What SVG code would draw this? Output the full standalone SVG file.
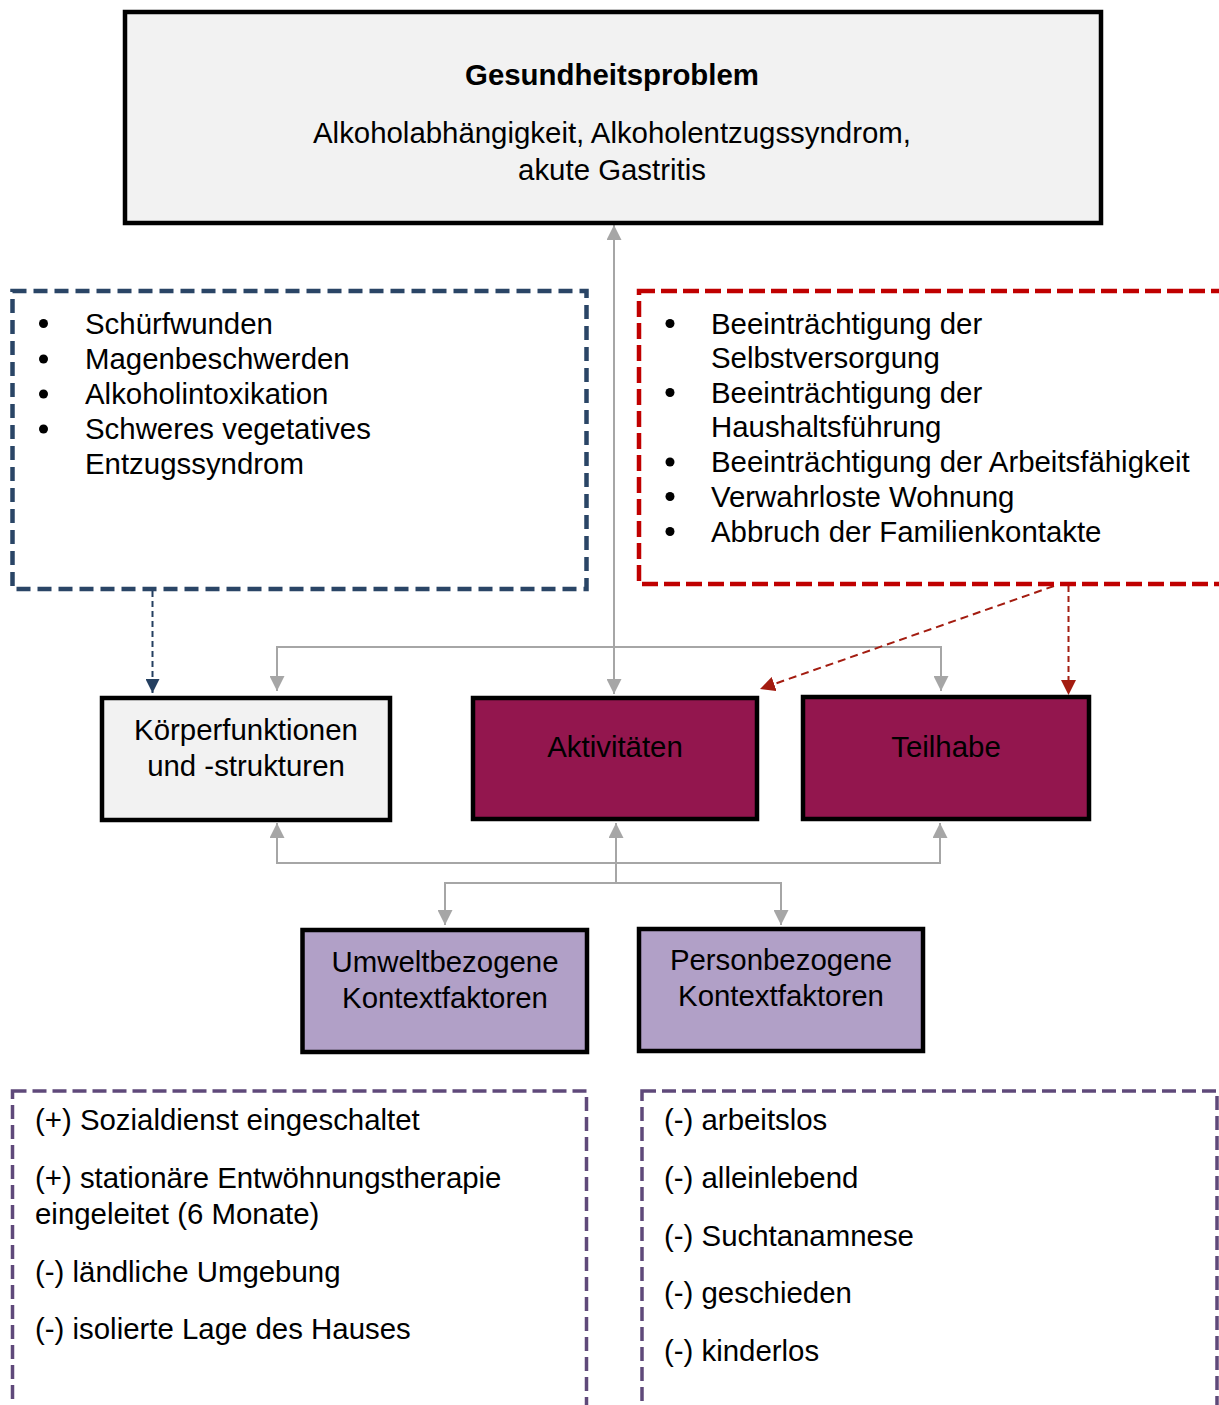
<svg xmlns="http://www.w3.org/2000/svg" width="1219" height="1405" viewBox="0 0 1219 1405">
<style>
text{font-family:"Liberation Sans",Arial,sans-serif;font-size:29.4px;fill:#000}
.c{text-anchor:middle}
.b{font-weight:bold}
.node{stroke:#000;stroke-width:4.5}
.gray{fill:none;stroke:#a6a6a6;stroke-width:2}
</style>
<defs>
<marker id="ag" viewBox="0 0 10 10" refX="10" refY="5" markerWidth="15" markerHeight="15" markerUnits="userSpaceOnUse" orient="auto-start-reverse"><path d="M0,0 L10,5 L0,10 z" fill="#a6a6a6"/></marker>
<marker id="ab" viewBox="0 0 10 10" refX="10" refY="5" markerWidth="14" markerHeight="14" markerUnits="userSpaceOnUse" orient="auto-start-reverse"><path d="M0,0 L10,5 L0,10 z" fill="#243f60"/></marker>
<marker id="ar" viewBox="0 0 10 10" refX="10" refY="5" markerWidth="15" markerHeight="15" markerUnits="userSpaceOnUse" orient="auto-start-reverse"><path d="M0,0 L10,5 L0,10 z" fill="#a31c10"/></marker>
</defs>

<g id="connectors">
<path class="gray" d="M614,225 V694" marker-start="url(#ag)" marker-end="url(#ag)"/>
<path class="gray" d="M277,691 V647 H941 V691" marker-start="url(#ag)" marker-end="url(#ag)"/>
<path class="gray" d="M277,823 V863 H940 V823" marker-start="url(#ag)" marker-end="url(#ag)"/>
<path class="gray" d="M616,823 V883" marker-start="url(#ag)"/>
<path class="gray" d="M445,925 V883 H781 V925" marker-start="url(#ag)" marker-end="url(#ag)"/>
<path d="M152.5,591 V693" fill="none" stroke="#243f60" stroke-width="2" stroke-dasharray="6 4" marker-end="url(#ab)"/>
<path d="M1054,586 L760,689" fill="none" stroke="#a31c10" stroke-width="2" stroke-dasharray="8 5" marker-end="url(#ar)"/>
<path d="M1068.5,586 V695" fill="none" stroke="#a31c10" stroke-width="2" stroke-dasharray="6 4" marker-end="url(#ar)"/>
</g>

<g id="gesundheitsproblem">
<rect class="node" x="125" y="12" width="976" height="211" fill="#f2f2f2"/>
<text class="c b" x="612" y="84.5">Gesundheitsproblem</text>
<text class="c" x="612" y="142.5">Alkoholabhängigkeit, Alkoholentzugssyndrom,</text>
<text class="c" x="612" y="179.5">akute Gastritis</text>
</g>

<g id="koerper-liste">
<rect x="12.5" y="291" width="574" height="298" fill="none" stroke="#2a4566" stroke-width="4.5" stroke-dasharray="14 7"/>
<g>
<circle cx="43.5" cy="323.5" r="4.5" fill="#000"/>
<circle cx="43.5" cy="359" r="4.5" fill="#000"/>
<circle cx="43.5" cy="394" r="4.5" fill="#000"/>
<circle cx="43.5" cy="429" r="4.5" fill="#000"/>
</g>
<text x="85" y="333.5">Schürfwunden</text>
<text x="85" y="369">Magenbeschwerden</text>
<text x="85" y="404">Alkoholintoxikation</text>
<text x="85" y="439">Schweres vegetatives</text>
<text x="85" y="474">Entzugssyndrom</text>
</g>

<g id="aktivitaet-liste">
<rect x="639" y="291" width="600" height="293" fill="none" stroke="#c00000" stroke-width="4.5" stroke-dasharray="16 6"/>
<g>
<circle cx="670" cy="323.5" r="4.5" fill="#000"/>
<circle cx="670" cy="392.5" r="4.5" fill="#000"/>
<circle cx="670" cy="462" r="4.5" fill="#000"/>
<circle cx="670" cy="496.5" r="4.5" fill="#000"/>
<circle cx="670" cy="531.5" r="4.5" fill="#000"/>
</g>
<text x="711" y="333.5">Beeinträchtigung der</text>
<text x="711" y="367.5">Selbstversorgung</text>
<text x="711" y="402.5">Beeinträchtigung der</text>
<text x="711" y="436.5">Haushaltsführung</text>
<text x="711" y="472">Beeinträchtigung der Arbeitsfähigkeit</text>
<text x="711" y="506.5">Verwahrloste Wohnung</text>
<text x="711" y="541.5">Abbruch der Familienkontakte</text>
</g>

<g id="koerperfunktionen">
<rect class="node" x="102" y="698" width="288" height="122" fill="#f2f2f2"/>
<text class="c" x="246" y="739.5">Körperfunktionen</text>
<text class="c" x="246" y="775.5">und -strukturen</text>
</g>

<g id="aktivitaeten">
<rect class="node" x="473" y="698" width="284" height="121" fill="#93164e"/>
<text class="c" x="615" y="756.5">Aktivitäten</text>
</g>

<g id="teilhabe">
<rect class="node" x="803" y="697" width="286" height="122" fill="#93164e"/>
<text class="c" x="946" y="756.5">Teilhabe</text>
</g>

<g id="umwelt">
<rect class="node" x="302.5" y="930" width="284.5" height="122" fill="#b1a0c7"/>
<text class="c" x="445" y="971.5">Umweltbezogene</text>
<text class="c" x="445" y="1007.5">Kontextfaktoren</text>
</g>

<g id="person">
<rect class="node" x="639" y="929" width="284" height="122" fill="#b1a0c7"/>
<text class="c" x="781" y="969.5">Personbezogene</text>
<text class="c" x="781" y="1005.5">Kontextfaktoren</text>
</g>

<g id="umwelt-liste">
<rect x="12.5" y="1091" width="574" height="360" fill="none" stroke="#5f497a" stroke-width="3.5" stroke-dasharray="14 6"/>
<text x="35" y="1129.5">(+) Sozialdienst eingeschaltet</text>
<text x="35" y="1187.5">(+) stationäre Entwöhnungstherapie</text>
<text x="35" y="1223.5">eingeleitet (6 Monate)</text>
<text x="35" y="1281.5">(-) ländliche Umgebung</text>
<text x="35" y="1338.5">(-) isolierte Lage des Hauses</text>
</g>

<g id="person-liste">
<rect x="642" y="1091" width="575" height="360" fill="none" stroke="#5f497a" stroke-width="3.5" stroke-dasharray="14 6"/>
<text x="664" y="1129.5">(-) arbeitslos</text>
<text x="664" y="1187.5">(-) alleinlebend</text>
<text x="664" y="1245.5">(-) Suchtanamnese</text>
<text x="664" y="1302.5">(-) geschieden</text>
<text x="664" y="1360.5">(-) kinderlos</text>
</g>
</svg>
